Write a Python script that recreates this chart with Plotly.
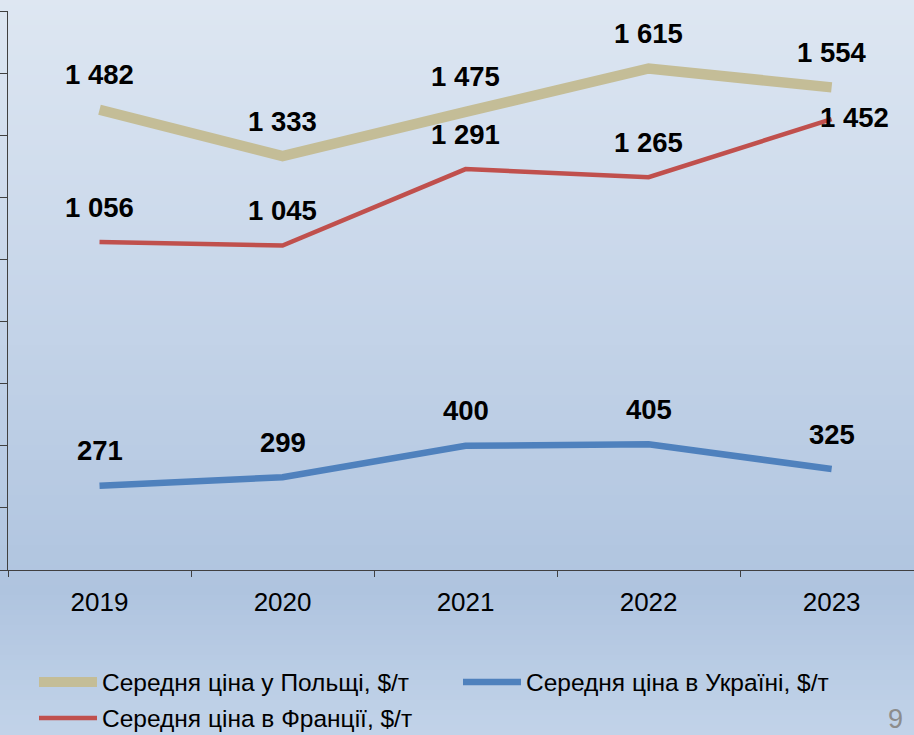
import plotly.graph_objects as go

years = ["2019", "2020", "2021", "2022", "2023"]
poland = [1482, 1333, 1475, 1615, 1554]
france = [1056, 1045, 1291, 1265, 1452]
ukraine = [271, 299, 400, 405, 325]

name_poland = "Середня ціна у Польщі, $/т"
name_ukraine = "Середня ціна в Україні, $/т"
name_france = "Середня ціна в Франції, $/т"

W, H = 914, 735
ML, MR, MT, MB = 8, 0, 11, 165
PH = H - MT - MB
PW = W - ML - MR
FONT = "Arial, Liberation Sans, sans-serif"

def fmt(v):
    return f"{v:,}".replace(",", " ")

def px_x(X):
    return (X - ML) / PW

def px_y(Y):
    return (H - MB - Y) / PH

fig = go.Figure()

series = [
    (name_poland, poland, "#c4bd97", 10.5, "legend"),
    (name_ukraine, ukraine, "#4f81bd", 6.5, "legend"),
    (name_france, france, "#c0504d", 4.5, "legend2"),
]
for name, vals, color, width, leg in series:
    fig.add_trace(go.Scatter(
        x=years, y=vals, mode="lines", name=name,
        line=dict(color=color, width=width),
        legend=leg, hoverinfo="skip",
    ))

# data labels
annotations = []
for name, vals, color, width, leg in series:
    for i, v in enumerate(vals):
        xs, ys = 0, 35
        if name == name_france and i == len(vals) - 1:
            xs, ys = 23, 2
        annotations.append(dict(
            x=i, y=v, xref="x", yref="y", text="<b>" + fmt(v) + "</b>", showarrow=False,
            xshift=xs, yshift=ys, xanchor="center", yanchor="middle",
            font=dict(family=FONT, size=27.5, color="#000000"),
        ))

annotations.append(dict(
    x=px_x(895), y=px_y(719), xref="paper", yref="paper", text="9", showarrow=False,
    xanchor="center", yanchor="middle",
    font=dict(family=FONT, size=27, color="#8c8c8c"),
))

# gradient background as stripes
stops = [(0, (0xde, 0xe7, 0xf2)), (300, (0xc6, 0xd5, 0xe9)), (590, (0xaf, 0xc4, 0xdf)), (735, (0xc2, 0xd3, 0xe9))]
def col_at(Y):
    for (y0, c0), (y1, c1) in zip(stops[:-1], stops[1:]):
        if y0 <= Y <= y1:
            t = (Y - y0) / (y1 - y0)
            return "rgb(%d,%d,%d)" % tuple(round(a + (b - a) * t) for a, b in zip(c0, c1))
    return "rgb(%d,%d,%d)" % stops[-1][1]

shapes = []
step = 5
for Y in range(0, H, step):
    shapes.append(dict(
        type="rect", xref="paper", yref="paper", x0=-0.05, x1=1.05,
        y0=px_y(Y + step + 1), y1=px_y(Y),
        fillcolor=col_at(Y + step / 2), line=dict(width=0), layer="below",
    ))

legend_common = dict(
    orientation="h", xanchor="left", yanchor="middle",
    font=dict(size=24.5, color="#000000", family=FONT),
    itemwidth=58, entrywidth=351, entrywidthmode="pixels",
    bgcolor="rgba(0,0,0,0)", traceorder="normal",
)

fig.update_layout(
    width=W, height=H,
    margin=dict(l=ML, r=MR, t=MT, b=MB, pad=0, autoexpand=False),
    paper_bgcolor="#c6d5e9", plot_bgcolor="rgba(0,0,0,0)",
    font=dict(family=FONT, color="#000000"),
    shapes=shapes, annotations=annotations,
    showlegend=True,
    legend=dict(x=px_x(34), y=px_y(682), **legend_common),
    legend2=dict(x=px_x(34), y=px_y(718), **legend_common),
    xaxis=dict(
        type="category",
        range=[-0.5, 4.45], showgrid=False, zeroline=False,
        showline=True, linecolor="#404040", linewidth=1,
        ticks="outside", ticklen=6, tickcolor="#404040", tickson="boundaries",
        tickfont=dict(size=26, color="#000000", family=FONT), fixedrange=True,
        ticklabelstandoff=9,
    ),
    yaxis=dict(
        range=[0, 1800], dtick=200, showgrid=False, zeroline=False,
        showline=True, linecolor="#404040", linewidth=1,
        ticks="outside", ticklen=8, tickcolor="#404040",
        showticklabels=False, fixedrange=True,
    ),
)

fig.write_html("out.html", config={"displayModeBar": False},
               post_script="document.body.style.margin='0px';")
